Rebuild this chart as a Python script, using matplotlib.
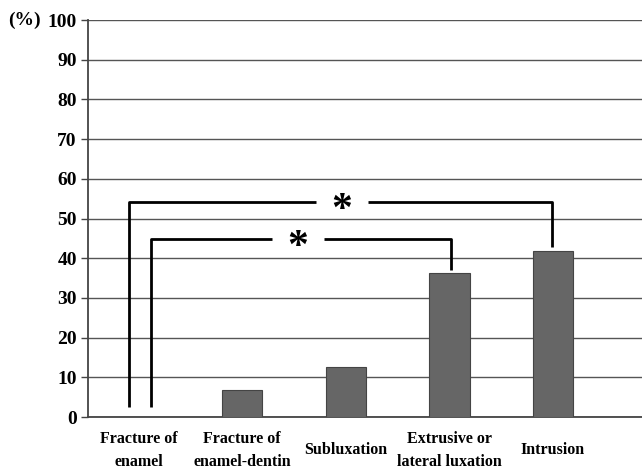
import matplotlib.pyplot as plt

# data
categories = ["Fracture of\nenamel", "Fracture of\nenamel-dentin", "Subluxation",
              "Extrusive or\nlateral luxation", "Intrusion"]
values = [0.0, 6.7, 12.6, 36.4, 41.8]
y_ticks = list(range(0, 101, 10))

# significance brackets: (left x, right x, height, left foot, right foot)
brackets = [
    (-0.09, 3.99, 54.1, 2.5, 42.9),
    (0.12, 3.02, 44.8, 2.5, 37.0),
]
star_gaps = [(1.71, 2.21), (1.29, 1.79)]

plt.rcParams['font.family'] = ['Liberation Serif', 'DejaVu Serif']
plt.rcParams['font.weight'] = 'bold'

fig = plt.figure(figsize=(6.42, 4.66), dpi=100)
ax = fig.add_axes([0.137, 0.105, 0.863, 0.852])

x = list(range(len(categories)))
ax.bar(x, values, width=0.39, color='#666666', edgecolor='#444444',
       linewidth=0.8, zorder=3)

ax.set_ylim(0, 100)
ax.set_xlim(-0.49, 4.86)
ax.set_yticks(y_ticks)
ax.set_yticklabels([str(t) for t in y_ticks], fontsize=14, fontweight='bold')
ax.set_xticks(x)
ax.set_xticklabels(categories, fontsize=11.5, fontweight='bold', linespacing=1.6)
# labels centred vertically like the original, two-line ones run off the bottom
for lbl in ax.get_xticklabels():
    lbl.set_verticalalignment('center')
ax.tick_params(axis='x', length=0, pad=24)
ax.tick_params(axis='y', length=5, width=1, color='#444444', pad=3)
ax.yaxis.grid(True, color='#555555', linewidth=1.0, zorder=0)
ax.set_axisbelow(True)

for side in ['top', 'right']:
    ax.spines[side].set_visible(False)
for side in ['left', 'bottom']:
    ax.spines[side].set_color('#444444')
    ax.spines[side].set_linewidth(1.3)

# brackets with asterisk
for (x0, x1, h, f0, f1), (g0, g1) in zip(brackets, star_gaps):
    ax.plot([x0, x0, g0], [f0, h, h], color='black', linewidth=2.0,
            solid_capstyle='butt', zorder=4)
    ax.plot([g1, x1, x1], [h, h, f1], color='black', linewidth=2.0,
            solid_capstyle='butt', zorder=4)
    ax.text((g0 + g1) / 2, h - 2.3, '*', ha='center', va='center',
            fontsize=30, fontweight='bold', zorder=5)

fig.text(0.012, 0.957, '(%)', ha='left', va='center', fontsize=14,
         fontweight='bold')

fig.savefig('out.png', dpi=100)
